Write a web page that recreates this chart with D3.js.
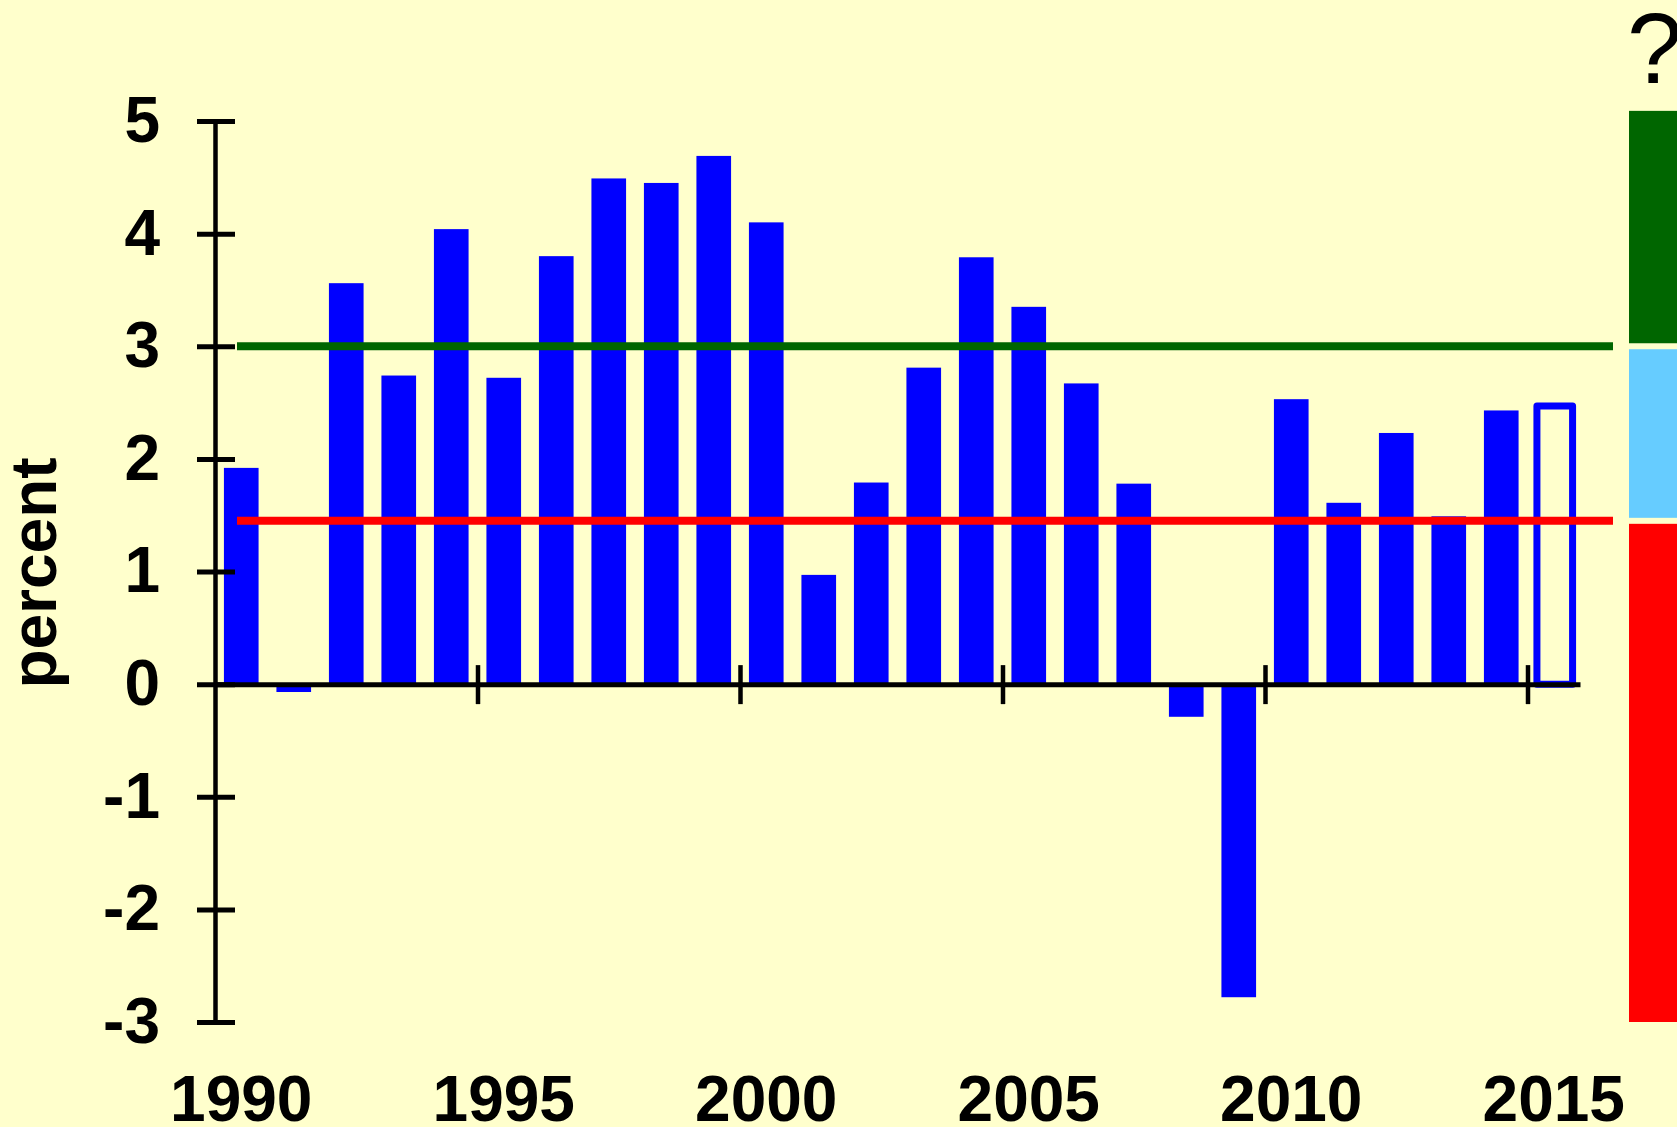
<!DOCTYPE html>
<html>
<head>
<meta charset="utf-8">
<script src="https://cdn.jsdelivr.net/npm/d3@7"></script>
<style>
  body { margin: 0; background: #ffffcc; overflow: hidden; }
  text { font-family: "Liberation Sans", Arial, sans-serif; }
</style>
</head>
<body>
<div id="chart"></div>
<script>
// size of the picture
const width = 1677;
const height = 1127;

// colours
const bgColour = "#ffffcc";
const barColour = "#0000ff";
const greenColour = "#006600";
const lightBlueColour = "#66ccff";
const redColour = "#ff0000";

// data: yearly growth, percent (last year is a projection, drawn as an outline)
const years = d3.range(1990, 2016);
const values = [1.92, -0.07, 3.56, 2.74, 4.04, 2.72, 3.80, 4.49, 4.45, 4.69,
                4.10, 0.97, 1.79, 2.81, 3.79, 3.35, 2.67, 1.78, -0.29, -2.78,
                2.53, 1.61, 2.23, 1.49, 2.43, 2.47];
const projectedYear = 2015;

// reference lines
const upperLine = 3.0;
const lowerLine = 1.45;

// zones of the side bar (from, to)
const zoneBounds = [[3.0, 5.09], [1.45, 3.0], [-3, 1.45]];
const zoneColours = [greenColour, lightBlueColour, redColour];

// axis ticks
const yTicks = [-3, -2, -1, 0, 1, 2, 3, 4, 5];
const xTickYears = [1995, 2000, 2005, 2010, 2015];
const xLabelYears = [1990, 1995, 2000, 2005, 2010, 2015];

const data = years.map((y, i) => ({year: y, value: values[i]}));

const svg = d3.select("#chart")
  .append("svg")
    .attr("width", width)
    .attr("height", height);

svg.append("rect")
  .attr("width", width)
  .attr("height", height)
  .attr("fill", bgColour);

/// scales ///
const yScale = d3.scaleLinear()
  .domain([-3, 5])
  .range([1022, 121]);

const xBand = d3.scaleBand()
  .domain(years)
  .range([215, 1580])
  .paddingInner(0.34)
  .paddingOuter(0.17);

// year boundaries for the x ticks
const xYear = d3.scaleLinear()
  .domain([1990, 2016])
  .range([215, 1580]);

/// bars ///
svg.append("g")
  .selectAll("rect")
  .data(data.filter(d => d.year !== projectedYear))
  .join("rect")
    .attr("x", d => xBand(d.year))
    .attr("width", xBand.bandwidth())
    .attr("y", d => yScale(Math.max(0, d.value)))
    .attr("height", d => Math.abs(yScale(d.value) - yScale(0)))
    .attr("fill", barColour);

svg.append("g")
  .selectAll("rect")
  .data(data.filter(d => d.year === projectedYear))
  .join("rect")
    .attr("x", d => xBand(d.year) + 0.5)
    .attr("width", xBand.bandwidth() + 1)
    .attr("y", d => yScale(d.value))
    .attr("height", d => yScale(0) - yScale(d.value))
    .attr("fill", "none")
    .attr("stroke", barColour)
    .attr("stroke-width", 7)
    .attr("stroke-linejoin", "round");

/// axes ///
const yAxis = g => g
  .attr("transform", `translate(215, 0)`)
  .call(d3.axisLeft(yScale).tickValues(yTicks).tickSize(0).tickSizeOuter(0).tickFormat(d => String(d)))
  .call(g => g.select(".domain").attr("stroke", "#000").attr("stroke-width", 4.5))
  .call(g => g.selectAll(".tick line")
    .attr("x1", -18).attr("x2", 20)
    .attr("stroke", "#000").attr("stroke-width", 5))
  .call(g => g.selectAll(".tick text")
    .attr("x", -55)
    .attr("dy", "0.32em")
    .attr("fill", "#000")
    .attr("font-size", "64px")
    .attr("font-weight", "bold")
    .attr("font-family", "'Liberation Sans', Arial, sans-serif"));

const xAxis = g => g
  .attr("transform", `translate(0, ${yScale(0)})`)
  .call(d3.axisBottom(xYear).tickValues(xTickYears).tickSize(0).tickSizeOuter(0).tickFormat(""))
  .call(g => g.select(".domain").attr("stroke", "#000").attr("stroke-width", 5))
  .call(g => g.selectAll(".tick line")
    .attr("y1", -19).attr("y2", 20)
    .attr("stroke", "#000").attr("stroke-width", 4.5));

const xLabels = g => g
  .attr("transform", `translate(${xBand.bandwidth() / 2}, 1121)`)
  .call(d3.axisBottom(xYear).tickValues(xLabelYears).tickSize(0).tickFormat(d => String(d)))
  .call(g => g.select(".domain").remove())
  .call(g => g.selectAll(".tick")
    .attr("transform", d => `translate(${xBand(d)}, 0)`))
  .call(g => g.selectAll(".tick text")
    .attr("y", 0).attr("dy", 0)
    .attr("fill", "#000")
    .attr("font-size", "64px")
    .attr("font-weight", "bold")
    .attr("font-family", "'Liberation Sans', Arial, sans-serif"));

svg.append("g").call(yAxis);
svg.append("g").call(xAxis);
svg.append("g").call(xLabels);

/// reference lines ///
const [xStart, xEnd] = xBand.range();
svg.append("g")
  .selectAll("line")
  .data([[upperLine, greenColour], [lowerLine, redColour]])
  .join("line")
    .attr("x1", xStart + 22)
    .attr("x2", xEnd + 33)
    .attr("y1", d => yScale(d[0]))
    .attr("y2", d => yScale(d[0]))
    .attr("stroke", d => d[1])
    .attr("stroke-width", 8);

/// side bar of zones ///
svg.append("g")
  .selectAll("rect")
  .data(zoneBounds)
  .join("rect")
    .attr("x", 1629)
    .attr("width", 60)
    .attr("y", (d, i) => yScale(d[1]) + (i === 0 ? 0 : 3))
    .attr("height", (d, i) => yScale(d[0]) - yScale(d[1]) - (i === 0 ? 3 : (i === zoneBounds.length - 1 ? 3 : 6)))
    .attr("fill", (d, i) => zoneColours[i]);

svg.append("text")
  .attr("x", 1627)
  .attr("y", 83)
  .attr("font-size", "100px")
  .attr("fill", "#000")
  .text("?");

/// y label ///
svg.append("text")
  .attr("transform", `translate(56, 573) rotate(-90)`)
  .attr("text-anchor", "middle")
  .attr("font-size", "64px")
  .attr("font-weight", "bold")
  .attr("fill", "#000")
  .text("percent");
</script>
</body>
</html>
